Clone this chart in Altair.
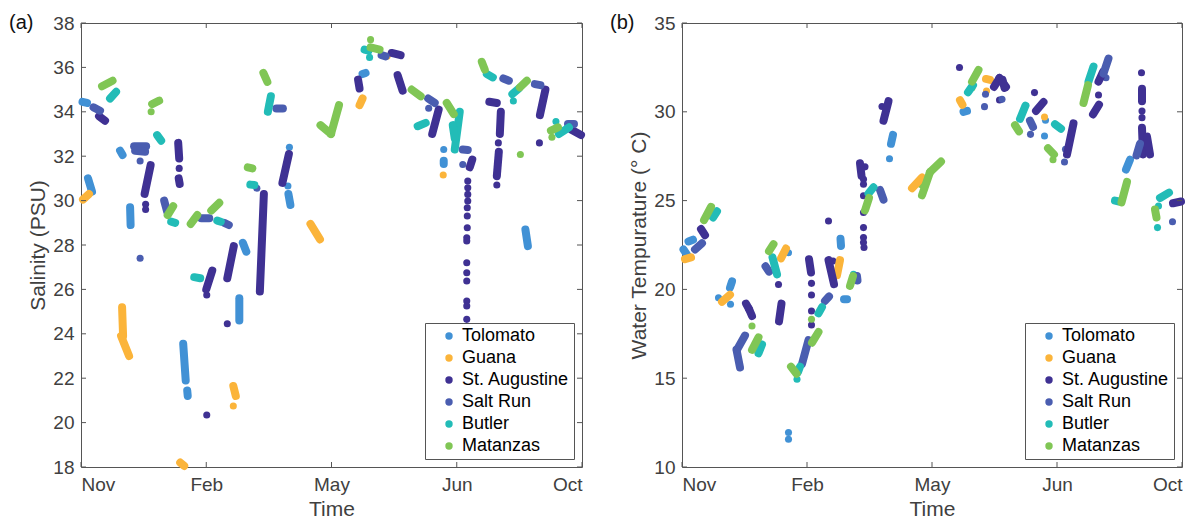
import altair as alt
import pandas as pd

SITES = ["Tolomato", "Guana", "St. Augustine", "Salt Run", "Butler", "Matanzas"]
COLORS = ["#4191d5", "#fbb43a", "#3f3193", "#4a5db0", "#22bcb7", "#80c655"]

X_TICKS = [0, 25, 50, 75, 100]
X_LABELS = ["Nov", "Feb", "May", "Jun", "Oct"]
SAL_TICKS = [18, 20, 22, 24, 26, 28, 30, 32, 34, 36, 38]
TEMP_TICKS = [10, 15, 20, 25, 30, 35]

# ---------------- Salinity (panel a): streaks (x1, y1, x2, y2) and single dots (x, y)
sal_tolomato_seg = [(0.3, 34.45, 1.2, 34.4), (1.4, 31.0, 2.2, 30.4), (7.8, 32.25, 8.3, 32.05),
                    (9.8, 29.7, 9.9, 28.9), (20.4, 23.55, 20.9, 21.9), (21.2, 21.45, 21.3, 21.2),
                    (32.3, 28.1, 33.0, 27.7), (31.6, 25.6, 31.6, 24.6), (41.4, 30.3, 41.8, 29.8),
                    (56.2, 35.7, 56.8, 35.75), (72.4, 31.8, 72.4, 31.65), (88.7, 28.7, 89.2, 27.95)]
sal_tolomato_pts = [(41.6, 32.4), (41.3, 30.66), (72.4, 32.3)]

sal_guana_seg = [(0.4, 30.05, 1.6, 30.3), (8.2, 25.2, 8.4, 23.9), (8.0, 23.9, 9.6, 23.0),
                 (19.8, 18.2, 20.6, 18.05), (30.4, 21.65, 30.9, 21.2), (45.8, 28.95, 47.7, 28.25),
                 (56.2, 34.6, 55.6, 34.3)]
sal_guana_pts = [(30.4, 20.75), (61.1, 36.5), (72.3, 31.15)]

sal_staug_seg = [(3.6, 33.8, 4.8, 33.6), (13.9, 31.6, 12.7, 30.3), (19.4, 32.6, 19.6, 31.9),
                 (19.5, 31.0, 19.7, 30.75), (26.2, 26.85, 25.0, 26.0), (30.5, 27.95, 29.2, 26.5),
                 (36.5, 30.3, 35.7, 25.9), (41.5, 32.1, 40.2, 30.8), (55.3, 35.45, 55.6, 35.05),
                 (62.0, 36.65, 63.8, 36.55), (63.2, 35.65, 64.2, 34.95), (71.4, 34.1, 70.1, 33.0),
                 (78.1, 31.85, 77.6, 31.5), (81.5, 34.45, 83.0, 34.4), (83.8, 34.0, 83.6, 33.0),
                 (83.4, 32.2, 83.0, 31.1), (92.7, 35.0, 91.6, 33.85), (97.8, 33.2, 99.8, 32.95)]
sal_staug_pts = [(12.9, 29.83), (12.9, 29.6), (19.6, 31.45), (25.1, 25.75), (25.1, 20.34), (29.2, 24.45),
                 (77.2, 30.88), (77.2, 30.58), (77.2, 30.28), (77.2, 29.98), (77.1, 29.68), (77.1, 29.31),
                 (77.1, 28.78), (77.0, 28.33), (77.0, 28.18), (77.0, 27.2), (77.0, 26.75), (77.0, 26.38),
                 (77.0, 25.48), (77.0, 25.25), (77.0, 24.65), (83.3, 32.6), (83.0, 30.7), (91.5, 32.6)]

sal_saltrun_seg = [(2.5, 34.2, 3.8, 34.05), (10.6, 32.45, 13.0, 32.45), (10.8, 32.25, 12.8, 32.2),
                   (16.6, 30.0, 17.2, 29.5), (24.0, 29.2, 25.6, 29.2), (28.6, 29.0, 29.5, 28.9),
                   (39.0, 34.15, 40.3, 34.15), (60.0, 36.55, 60.8, 36.5), (69.3, 34.6, 70.6, 34.4),
                   (76.2, 32.3, 77.2, 32.28), (84.3, 35.5, 85.4, 35.4), (90.6, 35.25, 91.7, 35.2),
                   (97.2, 33.45, 98.4, 33.45)]
sal_saltrun_pts = [(11.8, 31.78), (11.8, 27.4), (35.1, 30.56), (69.4, 34.16), (76.2, 31.63)]

sal_butler_seg = [(5.8, 34.6, 7.0, 34.9), (15.2, 32.95, 16.0, 32.7), (18.0, 29.05, 18.8, 29.0),
                  (22.6, 26.55, 23.8, 26.5), (27.2, 29.1, 27.9, 29.05), (33.8, 30.72, 34.6, 30.7),
                  (37.9, 34.7, 37.3, 34.0), (56.6, 36.8, 57.4, 36.75), (67.2, 33.35, 68.8, 33.5),
                  (75.6, 34.0, 74.6, 32.3), (74.2, 33.4, 74.6, 32.8), (81.0, 35.7, 82.2, 35.55),
                  (86.1, 34.8, 87.4, 35.05), (95.4, 33.0, 97.4, 33.3)]
sal_butler_pts = [(37.6, 34.35), (57.6, 36.45), (86.3, 34.49), (94.8, 33.56)]

sal_matanzas_seg = [(4.2, 35.15, 6.3, 35.4), (14.2, 34.35, 15.6, 34.5), (17.3, 29.35, 18.4, 29.75),
                    (21.9, 28.95, 23.2, 29.35), (26.0, 29.55, 27.6, 29.9), (33.3, 31.5, 34.2, 31.45),
                    (36.4, 35.75, 37.2, 35.35), (47.8, 33.4, 49.9, 33.0), (49.9, 33.0, 51.5, 34.3),
                    (57.8, 36.9, 59.6, 36.8), (66.0, 35.0, 67.8, 34.7), (73.0, 34.4, 74.4, 33.9),
                    (80.0, 36.25, 80.6, 35.9), (87.6, 35.1, 89.0, 35.4), (93.8, 33.15, 95.2, 33.3)]
sal_matanzas_pts = [(14.0, 34.0), (57.8, 37.25), (87.7, 32.08), (94.0, 32.85)]

# ---------------- Water temperature (panel b)
tmp_tolomato_seg = [(0.3, 22.25, 1.0, 21.95), (1.3, 22.7, 2.2, 22.8), (9.6, 20.1, 10.0, 20.45),
                    (31.7, 22.85, 31.8, 22.45), (32.4, 19.45, 33.0, 19.45), (41.8, 28.2, 42.2, 28.7),
                    (56.3, 30.0, 57.0, 30.05), (88.8, 26.75, 89.6, 27.3)]
tmp_tolomato_pts = [(7.3, 19.53), (9.7, 19.16), (21.3, 22.06), (21.3, 11.94), (21.3, 11.56),
                    (41.5, 27.36), (72.7, 29.52), (72.5, 28.64)]

tmp_guana_seg = [(0.6, 21.7, 1.8, 21.8), (8.0, 19.3, 9.6, 19.7), (19.8, 21.75, 20.8, 22.3),
                 (31.6, 21.65, 31.0, 20.8), (46.0, 25.7, 48.0, 26.3), (55.6, 30.65, 56.1, 30.4),
                 (60.8, 31.85, 61.6, 31.8)]
tmp_guana_pts = [(60.9, 31.17), (72.5, 29.71)]

tmp_staug_seg = [(3.8, 23.4, 4.6, 23.05), (12.8, 19.2, 13.4, 18.9), (13.4, 18.9, 14.0, 18.5),
                 (19.9, 19.2, 19.4, 18.2), (25.4, 21.7, 25.8, 20.95), (29.3, 21.65, 30.4, 20.3),
                 (35.6, 27.1, 35.9, 26.4), (41.3, 30.6, 40.3, 29.5), (62.4, 31.4, 63.5, 31.9),
                 (63.5, 31.9, 64.8, 31.4), (64.1, 31.8, 64.5, 31.35), (70.8, 30.05, 72.3, 30.55),
                 (78.3, 29.35, 77.0, 27.6), (83.3, 31.7, 84.2, 32.25), (82.2, 29.85, 83.4, 30.4),
                 (92.0, 31.3, 92.0, 30.6), (92.0, 29.1, 92.2, 27.6), (93.0, 28.6, 93.6, 27.6),
                 (98.2, 24.85, 99.8, 24.95)]
tmp_staug_pts = [(19.3, 20.28), (25.9, 20.34), (25.9, 19.68), (25.9, 18.78), (25.9, 18.0), (29.3, 23.85),
                 (30.2, 21.6), (36.6, 26.9), (36.3, 26.2), (36.3, 25.92), (36.3, 25.27), (36.3, 24.33),
                 (36.3, 23.48), (36.3, 22.92), (36.3, 22.64), (36.4, 22.36), (40.0, 30.3), (55.5, 32.49),
                 (63.5, 30.66), (70.5, 31.08), (83.3, 30.95), (91.9, 32.2), (92.0, 30.05), (92.0, 29.67)]

tmp_saltrun_seg = [(2.6, 22.25, 4.0, 22.6), (12.6, 17.4, 11.0, 16.6), (10.9, 16.6, 11.6, 15.6),
                   (16.7, 21.3, 17.4, 21.0), (25.3, 17.15, 24.0, 15.8), (28.6, 19.35, 29.4, 19.6),
                   (35.0, 20.75, 35.1, 20.5), (39.6, 25.6, 40.3, 25.05), (69.6, 29.5, 70.2, 29.15),
                   (85.3, 33.0, 84.3, 32.15), (90.9, 27.55, 91.6, 28.2)]
tmp_saltrun_pts = [(60.7, 30.99), (60.5, 30.29), (64.0, 30.7), (69.7, 28.73), (76.7, 27.89),
                   (76.5, 27.17), (84.8, 31.92), (98.1, 23.81)]

tmp_butler_seg = [(6.2, 24.05, 7.0, 24.4), (15.3, 16.4, 16.0, 16.9), (18.1, 21.8, 19.0, 20.85),
                  (23.2, 15.35, 23.6, 15.65), (27.3, 18.65, 28.0, 19.0), (37.3, 25.4, 38.3, 25.75),
                  (57.2, 31.1, 58.2, 31.5), (68.7, 30.35, 67.6, 29.6), (74.6, 29.3, 75.8, 29.05),
                  (81.3, 31.7, 82.3, 32.55), (86.6, 25.0, 87.4, 24.95), (95.6, 25.15, 97.4, 25.45)]
tmp_butler_pts = [(23.0, 14.94), (34.3, 20.85), (95.3, 24.7), (95.1, 23.48)]

tmp_matanzas_seg = [(4.4, 23.9, 5.8, 24.65), (14.0, 16.6, 15.3, 17.3), (17.4, 22.15, 18.3, 22.55),
                    (21.8, 15.65, 22.9, 15.25), (26.0, 17.0, 27.3, 17.6), (33.6, 20.2, 34.2, 20.75),
                    (36.6, 24.45, 37.4, 25.15), (48.0, 25.3, 49.6, 26.6), (49.6, 26.6, 51.8, 27.2),
                    (58.0, 31.7, 59.3, 32.35), (66.6, 29.25, 67.4, 28.9), (73.2, 27.95, 74.4, 27.6),
                    (80.3, 30.5, 81.2, 31.5), (87.9, 24.9, 89.0, 26.05), (94.6, 24.5, 94.9, 24.05)]
tmp_matanzas_pts = [(14.0, 17.94), (25.9, 18.32), (47.8, 25.9), (58.0, 31.36), (74.2, 27.3)]

FONT = "Liberation Sans"
H = 444
TICK_LEN = 5
TICK_COLOR = "#555555"


def seg_frame(groups):
    rows = []
    for site, segs in zip(SITES, groups):
        for a, b, c, d in segs:
            rows.append({"site": site, "x": a, "y": b, "x2": c, "y2": d})
    return pd.DataFrame(rows)


def pt_frame(groups):
    rows = []
    for site, pts in zip(SITES, groups):
        for a, b in pts:
            rows.append({"site": site, "x": a, "y": b})
    return pd.DataFrame(rows)


label_expr = "[" + ",".join("'%s'" % s for s in X_LABELS) + "][indexof([" + \
    ",".join(str(v) for v in X_TICKS) + "], datum.value)]"


def panel(segs, pts, yticks, ytitle, tag, W):
    xscale = alt.Scale(domain=[X_TICKS[0], X_TICKS[-1]], nice=False, zero=False)
    yscale = alt.Scale(domain=[yticks[0], yticks[-1]], nice=False, zero=False)
    xaxis = alt.Axis(values=X_TICKS, labelExpr=label_expr, title="Time")
    yaxis = alt.Axis(values=yticks, title=ytitle)

    def X(f="x"):
        return alt.X(f"{f}:Q", scale=xscale, axis=xaxis, title="Time")

    def Y(f="y"):
        return alt.Y(f"{f}:Q", scale=yscale, axis=yaxis, title=ytitle)

    color_scale = alt.Scale(domain=SITES, range=COLORS)
    legend = alt.Legend(orient="bottom-right", offset=8, title=None, padding=4,
                        labelFont=FONT, labelFontSize=18, labelColor="#000000",
                        symbolType="circle", symbolSize=55, symbolStrokeWidth=0,
                        symbolOffset=11, labelOffset=4, rowPadding=4,
                        strokeColor="#555555", fillColor="#ffffff", labelLimit=300)

    seg_df = seg_frame(segs)
    pt_df = pt_frame(pts)

    dots = alt.Chart(pt_df).mark_circle(size=50, opacity=1).encode(
        x=X(), y=Y(),
        color=alt.Color("site:N", scale=color_scale, legend=legend, sort=SITES))
    streaks = alt.Chart(seg_df).mark_rule(strokeWidth=8, strokeCap="round").encode(
        x=X(), y=Y(), x2="x2:Q", y2="y2:Q",
        color=alt.Color("site:N", scale=color_scale, legend=None))

    xt = pd.DataFrame({"x": X_TICKS})
    yt = pd.DataFrame({"y": yticks})
    tb = alt.Chart(xt).mark_rule(color=TICK_COLOR, strokeWidth=1).encode(
        x=X(), y=alt.value(H - TICK_LEN), y2=alt.value(H))
    tt = alt.Chart(xt).mark_rule(color=TICK_COLOR, strokeWidth=1).encode(
        x=X(), y=alt.value(0), y2=alt.value(TICK_LEN))
    tl = alt.Chart(yt).mark_rule(color=TICK_COLOR, strokeWidth=1).encode(
        y=Y(), x=alt.value(0), x2=alt.value(TICK_LEN))
    tr = alt.Chart(yt).mark_rule(color=TICK_COLOR, strokeWidth=1).encode(
        y=Y(), x=alt.value(W - TICK_LEN), x2=alt.value(W))

    tag_df = pd.DataFrame({"t": [tag]})
    tag_text = alt.Chart(tag_df).mark_text(align="left", baseline="middle", font=FONT,
                                           fontSize=20, color="#111111").encode(
        text="t:N", x=alt.value(-72), y=alt.value(0))

    return alt.layer(dots, streaks, tb, tt, tl, tr, tag_text).properties(width=W, height=H)


left = panel([sal_tolomato_seg, sal_guana_seg, sal_staug_seg, sal_saltrun_seg, sal_butler_seg, sal_matanzas_seg],
             [sal_tolomato_pts, sal_guana_pts, sal_staug_pts, sal_saltrun_pts, sal_butler_pts, sal_matanzas_pts],
             SAL_TICKS, "Salinity (PSU)", "(a)", 501)
right = panel([tmp_tolomato_seg, tmp_guana_seg, tmp_staug_seg, tmp_saltrun_seg, tmp_butler_seg, tmp_matanzas_seg],
              [tmp_tolomato_pts, tmp_guana_pts, tmp_staug_pts, tmp_saltrun_pts, tmp_butler_pts, tmp_matanzas_pts],
              TEMP_TICKS, "Water Tempurature (° C)", "(b)", 500)

chart = alt.hconcat(left, right, spacing=23).resolve_scale(color="independent").resolve_legend(
    color="independent").configure(
    padding={"left": 8, "top": 12, "right": 5, "bottom": 5},
    background="white",
).configure_view(
    stroke="#555555", strokeWidth=1
).configure_axis(
    grid=False, domain=False, ticks=False, tickSize=0,
    labelFont=FONT, labelFontSize=19, labelColor="#404040", labelPadding=7,
    titleFont=FONT, titleFontSize=21, titleColor="#404040", titleFontWeight="normal",
).configure_axisX(titlePadding=4, labelPadding=8).configure_axisY(titlePadding=4)

chart.save("out.html", embed_options={"renderer": "svg", "actions": False})
